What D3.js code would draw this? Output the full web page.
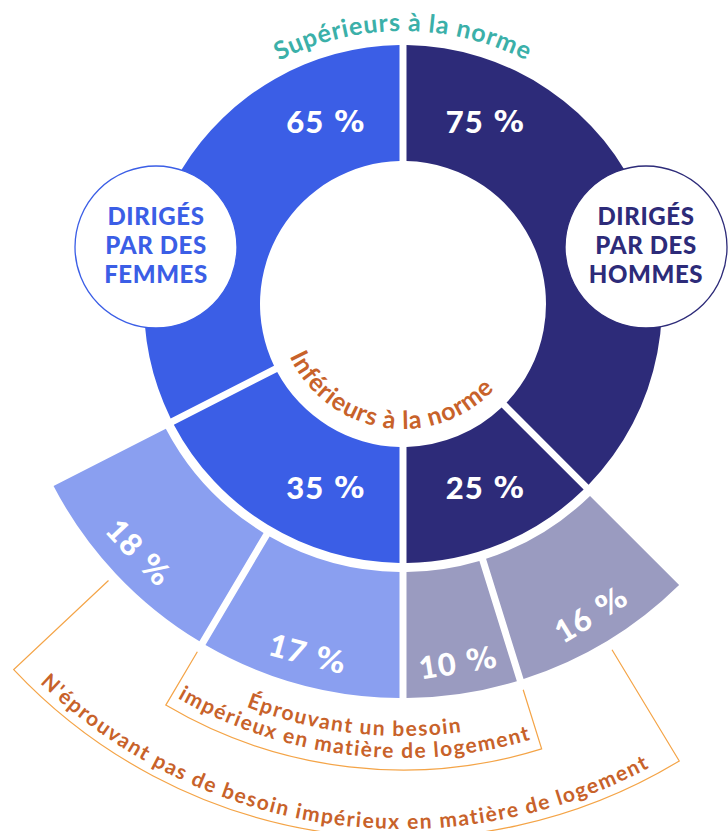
<!DOCTYPE html>
<html>
<head>
<meta charset="utf-8">
<script src="https://cdn.jsdelivr.net/npm/d3@7/dist/d3.min.js"></script>
<style>
  html, body { margin: 0; padding: 0; background: #ffffff; }
  svg { display: block; }
</style>
</head>
<body>
<svg id="chart" width="728" height="831"></svg>
<script>
// ---------------- DATA ----------------
const groups      = ["DIRIGÉS\nPAR DES\nFEMMES", "DIRIGÉS\nPAR DES\nHOMMES"];
const aboveNorm   = [65, 75];   // % supérieurs à la norme
const belowNorm   = [35, 25];   // % inférieurs à la norme
const inNeed      = [17, 10];   // % éprouvant un besoin impérieux
const notInNeed   = [18, 16];   // % n'éprouvant pas de besoin impérieux
const topLabel    = "Supérieurs à la norme";
const bottomLabel = "Inférieurs à la norme";
const needLabel   = ["Éprouvant un besoin", "impérieux en matière de logement"];
const noNeedLabel = "N'éprouvant pas de besoin impérieux en matière de logement";

// ---------------- STYLE ----------------
const mainColors  = ["#3B5EE6", "#2D2B79"];
const lightColors = ["#8A9FF0", "#9A9BC0"];
const teal   = "#3BB0A9";
const rust   = "#C8622A";
const amber  = "#F4A447";

const cx = 403, cy = 304;
const r0 = 143, r1 = 259, r2 = 268, r3 = 394;

const svg = d3.select("#chart");
const g = svg.append("g").attr("transform", `translate(${cx},${cy})`);

// each group takes a half circle; side = -1 (left, women) or +1 (right, men)
const ang = d3.scaleLinear().domain([0, 100]).range([0, Math.PI]);
const sides = [-1, 1];

function span(a, b) { return a < b ? [a, b] : [b, a]; }

const inner = [], outer = [];
groups.forEach((name, i) => {
  const s = sides[i];
  const aTop = s * ang(aboveNorm[i]);
  const aEnd = s * ang(100);
  const [a0, a1] = span(0, aTop);
  inner.push({ start: a0, end: a1, color: mainColors[i], value: aboveNorm[i], top: true, side: s });
  const [b0, b1] = span(aTop, aEnd);
  inner.push({ start: b0, end: b1, color: mainColors[i], value: belowNorm[i], top: false, side: s });
  // split the below-norm arc between "not in need" (next to above) and "in need" (bottom)
  const tot = inNeed[i] + notInNeed[i];
  const aSplit = aTop + (aEnd - aTop) * notInNeed[i] / tot;
  const [c0, c1] = span(aTop, aSplit);
  outer.push({ start: c0, end: c1, color: lightColors[i], value: notInNeed[i], kind: "no", side: s, mid: (aTop + aSplit) / 2, far: aTop });
  const [d0, d1] = span(aSplit, aEnd);
  outer.push({ start: d0, end: d1, color: lightColors[i], value: inNeed[i], kind: "need", side: s, mid: (aSplit + aEnd) / 2, far: aSplit });
});

const gap = 7;
const arcInner = d3.arc().innerRadius(r0).outerRadius(r1)
  .padRadius(100).padAngle(gap / 100)
  .startAngle(d => d.start).endAngle(d => d.end);
const arcOuter = d3.arc().innerRadius(r2).outerRadius(r3)
  .padRadius(100).padAngle(gap / 100)
  .startAngle(d => d.start).endAngle(d => d.end);

g.selectAll("path.inner").data(inner).join("path")
  .attr("class", "inner").attr("d", arcInner).attr("fill", d => d.color);
g.selectAll("path.outer").data(outer).join("path")
  .attr("class", "outer").attr("d", arcOuter).attr("fill", d => d.color);

function pt(a, r) { return [r * Math.sin(a), -r * Math.cos(a)]; }
const deg = a => a * 180 / Math.PI;

const numFont = "Lato, 'Open Sans', sans-serif";

function numText(sel) {
  sel.attr("text-anchor", "middle").attr("dominant-baseline", "central")
    .attr("fill", "#fff").attr("font-family", numFont).attr("font-weight", 900)
    .attr("font-size", 31).attr("letter-spacing", 1);
  sel.append("tspan").text(d => d.value);
  sel.append("tspan").attr("dx", 10).attr("font-family", "'DejaVu Sans', sans-serif")
    .attr("font-weight", 700).attr("font-size", 30).attr("letter-spacing", 0).text("%");
}

// inner value labels
const labelOff = 23.5 * Math.PI / 180;
const la = d => d.top ? d.side * labelOff : d.side * (Math.PI - labelOff);
g.selectAll("text.inner").data(inner).join("text")
  .attr("class", "inner")
  .attr("x", d => pt(la(d), 200)[0] + 2)
  .attr("y", d => pt(la(d), 200)[1])
  .call(numText);

// outer value labels (tangential)
g.selectAll("text.outer").data(outer).join("text")
  .attr("class", "outer")
  .attr("transform", d => {
    const p = pt(d.mid, 362);
    const rot = deg(d.mid) - 180 * Math.sign(d.mid);
    return `translate(${p[0]},${p[1]}) rotate(${rot})`;
  })
  .call(numText);

// ---- curved text paths ----
const defs = svg.append("defs");
function arcPathTop(id, r, center, halfSpan) {
  const a = center - halfSpan, b = center + halfSpan;
  const p = pt(a, r), q = pt(b, r);
  defs.append("path").attr("id", id)
    .attr("d", `M${p[0] + cx},${p[1] + cy} A${r},${r} 0 0 1 ${q[0] + cx},${q[1] + cy}`);
}
function arcPathBottom(id, r, center, halfSpan) {
  // center is an angle near PI; path goes left -> right via the bottom
  const a = center + halfSpan, b = center - halfSpan;
  const p = pt(a, r), q = pt(b, r);
  defs.append("path").attr("id", id)
    .attr("d", `M${p[0] + cx},${p[1] + cy} A${r},${r} 0 0 0 ${q[0] + cx},${q[1] + cy}`);
}
const txtFont = "Lato, 'Open Sans', sans-serif";

arcPathTop("topArc", 273, 0, 1.4);
svg.append("text").attr("fill", teal).attr("font-family", txtFont).attr("font-weight", 700)
  .attr("font-size", 25).attr("letter-spacing", 0.8)
  .append("textPath").attr("href", "#topArc").attr("startOffset", "50%").attr("text-anchor", "middle")
  .text(topLabel);

arcPathBottom("botArc", 125, Math.PI + 9 * Math.PI / 180, 1.5);
svg.append("text").attr("fill", rust).attr("font-family", txtFont).attr("font-weight", 700)
  .attr("font-size", 25).attr("letter-spacing", 0.8)
  .append("textPath").attr("href", "#botArc").attr("startOffset", "50%").attr("text-anchor", "middle")
  .text(bottomLabel);

// ---- brackets ----
const cont = a => a < 0 ? a + 2 * Math.PI : a;
const wNeed = outer.find(d => d.side < 0 && d.kind === "need");
const mNeed = outer.find(d => d.side > 0 && d.kind === "need");
const wNo = outer.find(d => d.side < 0 && d.kind === "no");
const mNo = outer.find(d => d.side > 0 && d.kind === "no");

function bracket(aLeft, aRight, rTick, rArc) {
  const A = cont(aLeft), B = cont(aRight);
  const p0 = pt(A, rTick), p1 = pt(A, rArc), p2 = pt(B, rArc), p3 = pt(B, rTick);
  g.append("path")
    .attr("d", `M${p0}L${p1}A${rArc},${rArc} 0 0 0 ${p2}L${p3}`)
    .attr("fill", "none").attr("stroke", amber).attr("stroke-width", 1.2);
  return (A + B) / 2;
}
const c1 = bracket(wNeed.far, mNeed.far, 404, 466);
const c2 = bracket(wNo.mid, mNo.mid, 404, 534);

arcPathBottom("need1", 432, c1, 1.2);
arcPathBottom("need2", 454, c1, 1.2);
arcPathBottom("noneed", 525, c2, 1.2);
[["need1", needLabel[0]], ["need2", needLabel[1]], ["noneed", noNeedLabel]].forEach(([id, t]) => {
  svg.append("text").attr("fill", rust).attr("font-family", txtFont).attr("font-weight", 700)
    .attr("font-size", 21).attr("letter-spacing", 1.5)
    .append("textPath").attr("href", "#" + id).attr("startOffset", "50%").attr("text-anchor", "middle")
    .text(t);
});

// ---- group circles ----
const circ = [{ x: 156, c: mainColors[0], t: groups[0] }, { x: 646, c: mainColors[1], t: groups[1] }];
circ.forEach(d => {
  svg.append("circle").attr("cx", d.x).attr("cy", 247).attr("r", 81)
    .attr("fill", "#fff").attr("stroke", d.c).attr("stroke-width", 1.3);
  const lines = d.t.split("\n");
  const tx = svg.append("text").attr("text-anchor", "middle").attr("fill", d.c)
    .attr("font-family", numFont).attr("font-weight", 900).attr("font-size", 24)
    .attr("letter-spacing", 0.6);
  lines.forEach((l, k) => tx.append("tspan").attr("x", d.x).attr("y", 225 + k * 29).text(l));
});
</script>
</body>
</html>
